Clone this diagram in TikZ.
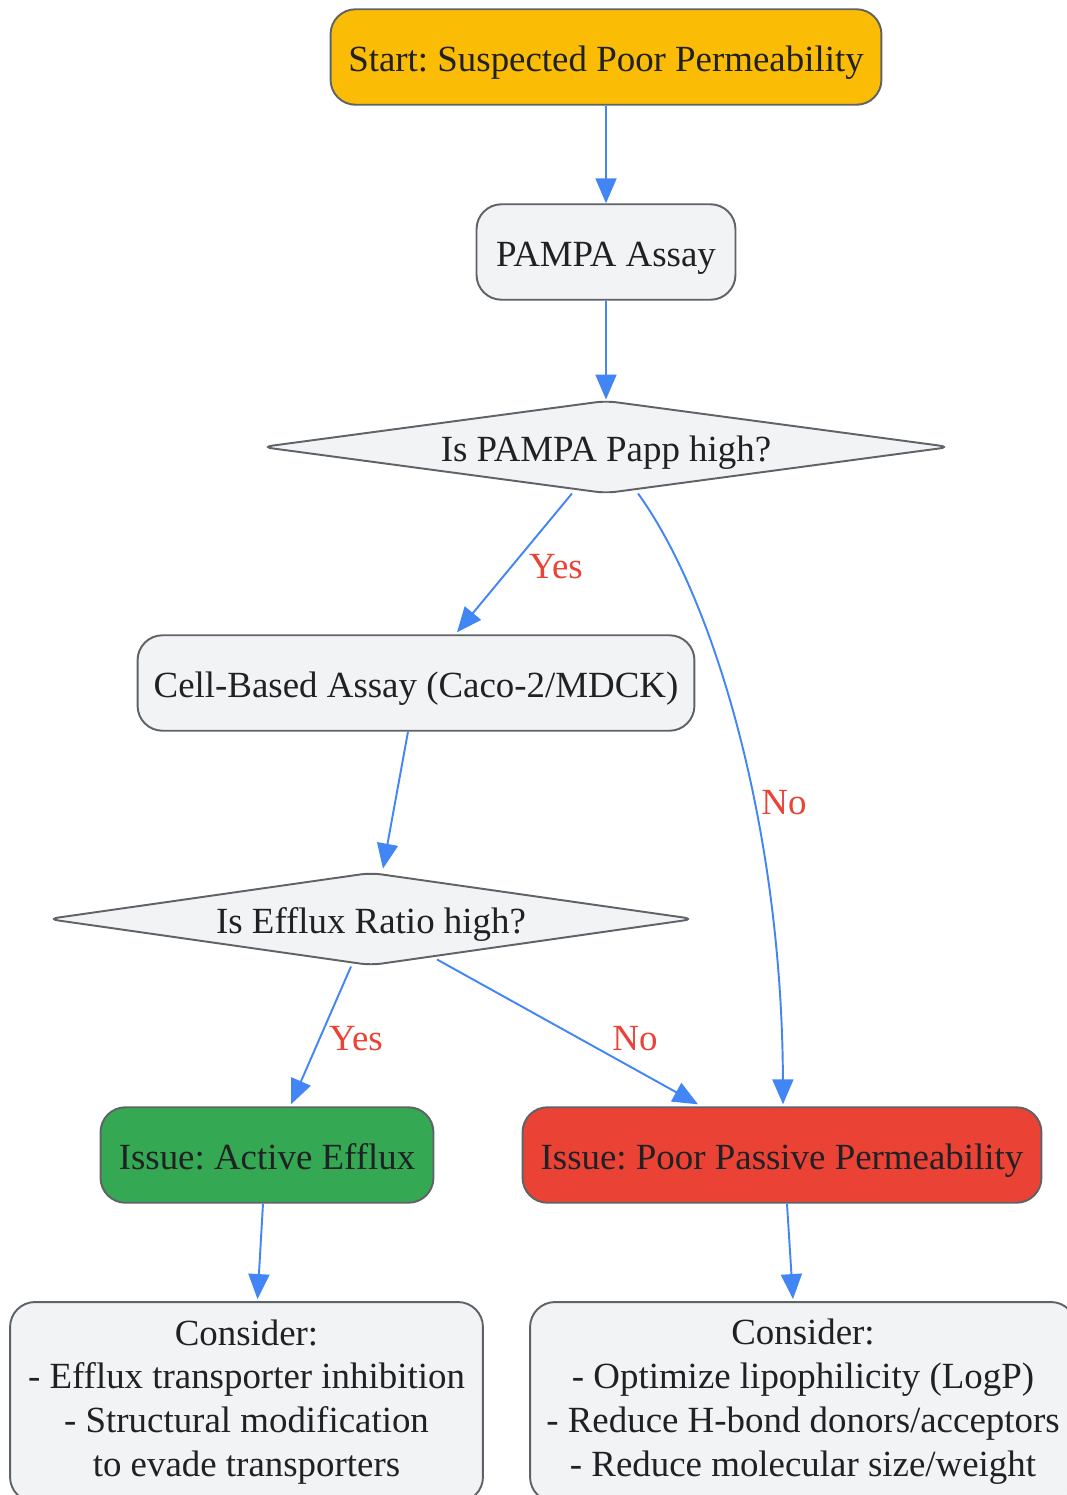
\documentclass[tikz,border=0pt]{standalone}
\usepackage{fontspec}
\setmainfont{Liberation Serif}
\frenchspacing
\usetikzlibrary{shapes.geometric,arrows.meta,calc}
\definecolor{startyellow}{HTML}{FBBC05}
\definecolor{boxgray}{HTML}{F1F3F4}
\definecolor{linegray}{HTML}{5F6368}
\definecolor{textgray}{HTML}{202124}
\definecolor{edgeblue}{HTML}{4285F4}
\definecolor{labelred}{HTML}{EA4335}
\definecolor{issuegreen}{HTML}{34A853}
\definecolor{issuered}{HTML}{EA4335}

\begin{document}
\begin{tikzpicture}
  [x=0.02cm,y=-0.02cm,
   every node/.style={font=\fontsize{21}{25}\selectfont,text=textgray,inner sep=0pt},
   box/.style={rectangle,rounded corners=0.5cm,draw=linegray,line width=1.1pt,fill=boxgray,align=center,minimum height=1.91cm},
   oneline/.style={text height=16pt,text depth=0pt},
   decision/.style={diamond,aspect=7.5,rounded corners=6pt,draw=linegray,line width=1.1pt,fill=boxgray,minimum height=1.86cm,oneline},
   flow/.style={draw=edgeblue,line width=1.1pt,-{Triangle[length=0.5cm,width=0.42cm]}},
   answer/.style={text=labelred}]
  \useasboundingbox (0,0) rectangle (1067,1495);

  \node[box,oneline,fill=startyellow,minimum width=11.02cm] (start) at (606,57) {Start: Suspected Poor Permeability};
  \node[box,oneline,minimum width=5.18cm] (pampa) at (606,252) {PAMPA Assay};
  \node[decision,minimum width=13.78cm] (dia1) at (606,447) {Is PAMPA Papp high?};
  \node[box,oneline,minimum width=11.14cm] (cell) at (416,683) {Cell-Based Assay (Caco-2/MDCK)};
  \node[decision,minimum width=12.94cm] (dia2) at (371,919) {Is Efflux Ratio high?};
  \node[box,oneline,fill=issuegreen,minimum width=6.66cm] (active) at (267,1155) {Issue: Active Efflux};
  \node[box,oneline,fill=issuered,minimum width=10.38cm] (poor) at (782,1155) {Issue: Poor Passive Permeability};
  \node[box,minimum width=9.46cm,minimum height=4cm] (cons1) at (246.5,1402)
    {Consider:\\- Efflux transporter inhibition\\- Structural modification\\to evade transporters};
  \node[box,minimum width=10.92cm,minimum height=4cm] (cons2) at (803,1402)
    {Consider:\\- Optimize lipophilicity (LogP)\\- Reduce H-bond donors/acceptors\\- Reduce molecular size/weight};

  \draw[flow] (start) -- (pampa);
  \draw[flow] (pampa) -- (dia1);
  \draw[flow] ($(dia1.south)+(-34,-1)$) -- ($(cell.north)+(41,-2)$) node[answer] at (556,567) {Yes};
  \draw[flow] ($(dia1.south)+(32,-1)$) .. controls (715,600) and (782,830) .. ($(poor.north)+(1,-2)$) node[answer] at (784,803) {No};
  \draw[flow] ($(cell.south)+(-8,0)$) -- ($(dia2.north)+(12,-3)$);
  \draw[flow] ($(dia2.south)+(-20,0)$) -- ($(active.north)+(24,-2)$) node[answer] at (356,1039) {Yes};
  \draw[flow] ($(dia2.south)+(66,-7)$) -- ($(poor.north)+(-84,-2)$) node[answer] at (635,1039) {No};
  \draw[flow] ($(active.south)+(-4,0)$) -- ($(cons1.north)+(11,-2)$);
  \draw[flow] ($(poor.south)+(5,0)$) -- ($(cons2.north)+(-10,-2)$);

\end{tikzpicture}
\end{document}
